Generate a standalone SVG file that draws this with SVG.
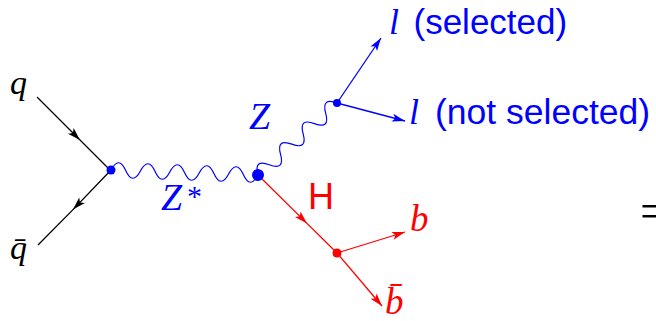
<svg xmlns="http://www.w3.org/2000/svg" width="656" height="321" viewBox="0 0 656 321">
<style>
.ln{fill:none;stroke-width:1.3}
.k{stroke:#000}
.b{stroke:#0000ff}
.r{stroke:#ff0000}
.wave{fill:none;stroke:#0000ff;stroke-width:1.2}
.mi{font-family:"Liberation Serif","Times New Roman",serif;font-style:italic}
.rm{font-family:"Liberation Serif","Times New Roman",serif}
.sf{font-family:"Liberation Sans",Arial,sans-serif}
</style>
<defs>
<marker id="ak" markerUnits="userSpaceOnUse" markerWidth="1" markerHeight="1" refX="0" refY="0" orient="auto" overflow="visible"><path d="M0,0 L-13,-4 L-10,0 L-13,4 z" fill="#000"/></marker>
<marker id="ab" markerUnits="userSpaceOnUse" markerWidth="1" markerHeight="1" refX="0" refY="0" orient="auto" overflow="visible"><path d="M0,0 L-13,-4 L-10,0 L-13,4 z" fill="#0000ff"/></marker>
<marker id="ar" markerUnits="userSpaceOnUse" markerWidth="1" markerHeight="1" refX="0" refY="0" orient="auto" overflow="visible"><path d="M0,0 L-13,-4 L-10,0 L-13,4 z" fill="#ff0000"/></marker>
</defs>
<g id="connectors">
<path class="ln k" d="M37,97 L80,140 L110,170" marker-mid="url(#ak)"/>
<path class="ln k" d="M111,170 L73,209.6 L38,245" marker-mid="url(#ak)"/>
<path class="wave" transform="translate(111,170) rotate(1.95)" d="M0,0 c4.9,-10 9.8,-10 14.71,0 c4.9,10 9.8,10 14.71,0 c4.9,-10 9.8,-10 14.71,0 c4.9,10 9.8,10 14.71,0 c4.9,-10 9.8,-10 14.71,0 c4.9,10 9.8,10 14.71,0 c4.9,-10 9.8,-10 14.71,0 c4.9,10 9.8,10 14.71,0 c4.9,-10 9.8,-10 14.71,0 c4.9,10 9.8,10 14.71,0"/>
<path class="wave" transform="translate(258,175) rotate(-42.34)" d="M0,0 c5.09,-10 10.18,-10 15.27,0 c5.09,10 10.18,10 15.27,0 c5.09,-10 10.18,-10 15.27,0 c5.09,10 10.18,10 15.27,0 c5.09,-10 10.18,-10 15.27,0 c5.09,10 10.18,10 15.27,0 c5.09,-10 10.18,-10 15.27,0"/>
<path class="ln b" d="M337,103 L381,38" marker-end="url(#ab)"/>
<path class="ln b" d="M337,103 L405,121" marker-end="url(#ab)"/>
<path class="ln r" d="M258,175 L307,223.4 L337,253" marker-mid="url(#ar)"/>
<path class="ln r" d="M337,253 L405,232" marker-end="url(#ar)"/>
<path class="ln r" d="M337,253 L382,306" marker-end="url(#ar)"/>
</g>
<g id="q"><text class="mi" x="10" y="94" font-size="34">q</text></g>
<g id="qbar"><text class="mi" x="10" y="259" font-size="34">q̄</text></g>
<g id="v1"><circle cx="111" cy="170" r="4.5" fill="#0000ff"/></g>
<g id="v2"><circle cx="258" cy="175" r="6" fill="#0000ff"/></g>
<g id="v3"><circle cx="337" cy="103" r="4" fill="#0000ff"/></g>
<g id="v4"><circle cx="337" cy="253" r="4.5" fill="#ff0000"/></g>
<g id="zstar" fill="#0000ff"><text class="mi" x="161" y="210" font-size="38">Z</text><text class="rm" x="187" y="206" font-size="30">*</text></g>
<g id="z" fill="#0000ff"><text class="mi" x="249" y="129" font-size="38">Z</text></g>
<g id="lsel" fill="#0000ff"><text class="mi" x="389" y="34" font-size="36">l</text><text class="sf" x="413.5" y="34" font-size="35">(selected)</text></g>
<g id="lnot" fill="#0000ff"><text class="mi" x="409" y="124" font-size="36">l</text><text class="sf" x="435" y="124" font-size="35.5">(not selected)</text></g>
<g id="h" fill="#ff0000"><text class="sf" x="308" y="209" font-size="36">H</text></g>
<g id="b" fill="#ff0000"><text class="mi" x="410" y="231" font-size="37">b</text></g>
<g id="bbar" fill="#ff0000"><text class="mi" x="385" y="314" font-size="37">b̄</text></g>
<g id="eq"><text class="rm" x="640" y="228" font-size="50">=</text></g>
</svg>
